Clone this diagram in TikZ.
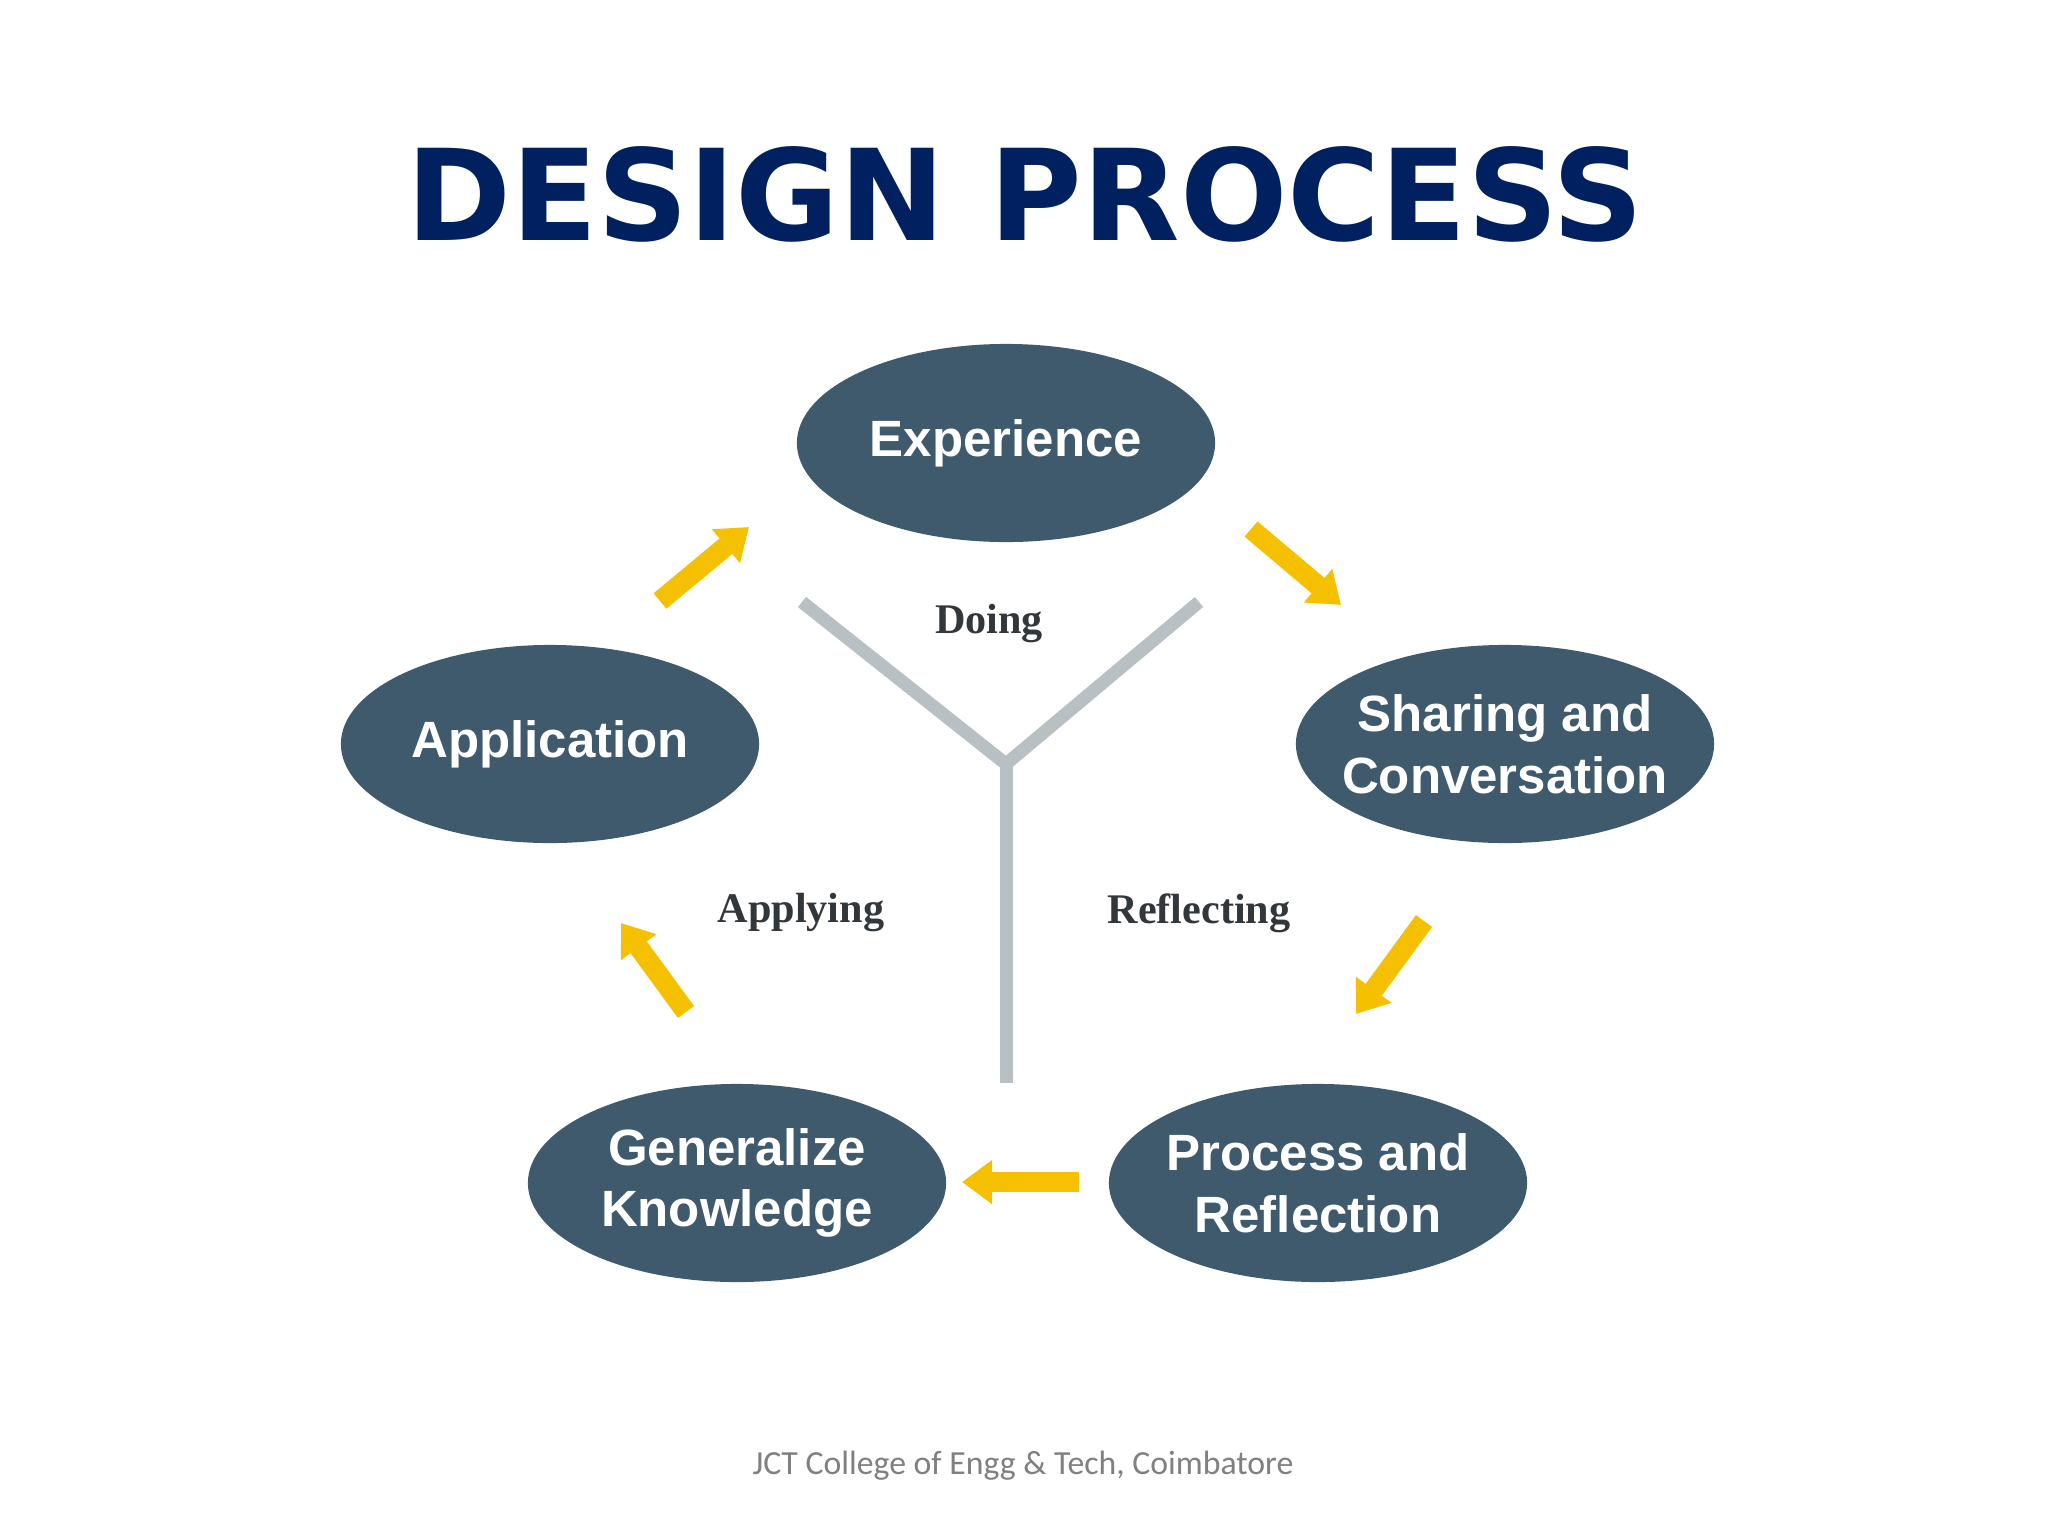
\documentclass[tikz,border=0pt]{standalone}
\usepackage{fontspec}
\setmainfont{Liberation Sans}
\newfontfamily\titlefont{DejaVu Sans}
\newfontfamily\labelfont{Liberation Serif}
\newfontfamily\footfont{Carlito}
\usetikzlibrary{arrows.meta,positioning,shapes.geometric}
\definecolor{navy}{RGB}{0,32,96}
\definecolor{slate}{RGB}{62,90,108}
\definecolor{gold}{RGB}{245,192,0}
\definecolor{ygrey}{RGB}{185,192,195}
\definecolor{labgrey}{RGB}{50,55,60}

\begin{document}
\begin{tikzpicture}[x=0.01cm, y=-0.01cm,
  st/.style={ellipse, fill=slate, minimum width=4.18cm, minimum height=1.98cm, inner ysep=0pt, inner xsep=-0.2cm, align=center, text=white, font=\fontsize{14.5}{17.5}\selectfont\bfseries},
  yarr/.style={-{Triangle[length=3mm, width=4.2mm]}, line width=2mm, draw=gold},
  ybar/.style={line width=1.3mm, draw=ygrey},
  lab/.style={font=\labelfont\fontsize{12}{14}\selectfont\bfseries, text=labgrey}
]
\useasboundingbox (0,0) rectangle (2048,1536);

\node[font=\titlefont\fontsize{36}{40}\selectfont\bfseries, text=navy] (title) at (1025,194) {DESIGN PROCESS};

% the five stages
\node[st] (exp) at (1006,443) {Experience};
\node[st] (app) at (550,744) {Application};
\node[st] (share) at (1505,744) {Sharing and\\Conversation};
\node[st] (gen) at (737,1183) {Generalize\\Knowledge};
\node[st] (proc) at (1318,1183) {Process and\\Reflection};

% the Y in the middle
\coordinate (yl) at (802,602);
\coordinate (yr) at (1199,602);
\coordinate (yj) at (1006,764);
\coordinate (yb) at (1006,1083);
\draw[ybar] (yl) -- (yj) -- (yr);
\draw[ybar] (yj) -- (yb);

\node[lab] (doing) at (989,624) {Doing};
\node[lab] (applying) at (801,913) {Applying};
\node[lab] (reflecting) at (1199,913) {Reflecting};

% arrows round the cycle
\coordinate (a1) at (660,601);  \coordinate (b1) at (749,527);
\coordinate (a2) at (1251,529); \coordinate (b2) at (1341,605);
\coordinate (a3) at (1424,921); \coordinate (b3) at (1356,1014);
\coordinate (a4) at (1079,1182); \coordinate (b4) at (962,1182);
\coordinate (a5) at (686,1012); \coordinate (b5) at (621,923);
\draw[yarr] (a1) -- (b1);
\draw[yarr] (a2) -- (b2);
\draw[yarr] (a3) -- (b3);
\draw[yarr] (a4) -- (b4);
\draw[yarr] (a5) -- (b5);

\node[font=\footfont\fontsize{9.6}{11}\selectfont, text=gray] (foot) at (1023,1466) {JCT College of Engg \& Tech, Coimbatore};
\end{tikzpicture}
\end{document}
